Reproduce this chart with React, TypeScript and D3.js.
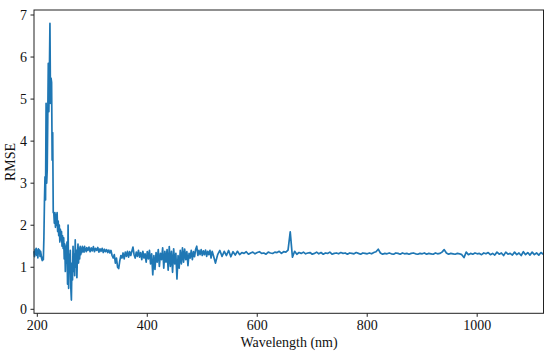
import React from "react";
import * as d3 from "d3";

// Segment A: 194–290 nm, 1 nm step
const segAStart = 194;
const segAStep = 1;
const segAValues = [
  1.38, 1.25, 1.42, 1.30, 1.45, 1.28, 1.40, 1.22, 1.44, 1.33,
  1.41, 1.26, 1.38, 1.30, 1.20, 1.16, 1.24, 1.18,
  1.70, 2.55, 3.15, 2.60, 4.90, 3.00, 3.30, 4.50, 5.85, 4.70,
  5.60, 6.80, 4.90, 5.50, 5.40, 3.55, 4.20, 2.30,
  2.30, 2.05, 2.30, 1.95, 2.25, 2.00, 2.30, 1.85, 2.10, 1.75, 2.00,
  1.60, 1.90, 1.65, 1.85, 1.50, 1.75, 1.45, 1.70, 1.20, 1.55,
  0.90, 1.50, 1.10, 1.60, 0.60, 2.00, 0.50, 1.30, 0.90, 1.40,
  0.50, 0.22, 1.10, 0.70, 1.50, 0.90, 1.30, 0.80, 1.65, 1.00,
  1.40, 0.75, 1.30, 1.55, 1.10, 1.45, 1.20, 1.50, 1.30, 1.45,
  1.35, 1.50, 1.38, 1.46, 1.36, 1.50, 1.40, 1.44, 1.37, 1.47,
];

// Segment B: 292–520 nm, 2 nm step
const segBStart = 292;
const segBStep = 2;
const segBValues = [
  1.40, 1.48, 1.37, 1.46, 1.39, 1.49, 1.37, 1.45, 1.40, 1.47,
  1.36, 1.44, 1.38, 1.45, 1.35, 1.43, 1.37, 1.42, 1.35, 1.41,
  1.34, 1.40, 1.28, 1.22, 1.30, 1.10, 1.22, 1.00, 0.97, 1.15,
  1.28, 1.22, 1.34, 1.20, 1.36, 1.26, 1.38, 1.24, 1.37, 1.28,
  1.38, 1.48, 1.30, 1.22, 1.36, 1.26, 1.40, 1.24, 1.35, 1.18,
  1.38, 1.22, 1.32, 1.12, 1.37, 1.20, 1.40, 1.08, 1.32, 0.82,
  1.28, 0.95, 1.35, 1.12, 1.42, 1.02, 1.33, 1.18, 1.46, 0.98,
  1.38, 1.12, 1.42, 0.93, 1.49, 1.02, 1.38, 0.88, 1.44, 1.08,
  1.33, 0.72, 1.28, 0.98, 1.40, 1.08, 1.46, 1.12, 1.43, 1.18,
  1.37, 1.04, 1.33, 1.22, 1.40, 1.18, 1.37, 1.25, 1.43, 1.50,
  1.28, 1.40, 1.30, 1.42, 1.28, 1.39, 1.30, 1.41, 1.26, 1.38,
  1.30, 1.40, 1.22, 1.38, 1.29,
];

// Segment C: 524–1120 nm, 4 nm step
const segCStart = 524;
const segCStep = 4;
const segCValues = [
  1.10, 1.30, 1.40, 1.26, 1.38, 1.28, 1.40, 1.25, 1.37, 1.29,
  1.38, 1.30, 1.35, 1.33, 1.37, 1.31, 1.34, 1.36, 1.32, 1.35,
  1.37, 1.33, 1.34, 1.31, 1.36, 1.34, 1.33, 1.36, 1.35, 1.38,
  1.33, 1.37, 1.36, 1.41, 1.84, 1.24, 1.38, 1.31, 1.35, 1.33,
  1.36, 1.32, 1.34, 1.35, 1.31, 1.33, 1.36, 1.32, 1.35, 1.31,
  1.34, 1.33, 1.36, 1.31, 1.33, 1.34, 1.32, 1.35, 1.33, 1.34,
  1.31, 1.34, 1.33, 1.32, 1.35, 1.33, 1.31, 1.34, 1.33, 1.32,
  1.34, 1.32, 1.35, 1.37, 1.43, 1.34, 1.31, 1.33, 1.32, 1.34,
  1.32, 1.31, 1.34, 1.33, 1.31, 1.34, 1.32, 1.33, 1.31, 1.33,
  1.34, 1.32, 1.31, 1.33, 1.32, 1.34, 1.31, 1.33, 1.32, 1.31,
  1.34, 1.32, 1.33, 1.36, 1.42, 1.34, 1.31, 1.33, 1.32, 1.31,
  1.33, 1.32, 1.30, 1.23, 1.36, 1.30, 1.33, 1.31, 1.34, 1.32,
  1.33, 1.30, 1.34, 1.32, 1.35, 1.30, 1.33, 1.29, 1.36, 1.31,
  1.34, 1.28, 1.36, 1.31, 1.33, 1.29, 1.36, 1.30, 1.34, 1.28,
  1.37, 1.30, 1.35, 1.29, 1.36, 1.30, 1.34, 1.29, 1.35, 1.31,
];

const xTicks = [200, 400, 600, 800, 1000];
const yTicks = [0, 1, 2, 3, 4, 5, 6, 7];
const xLabel = "Wavelength (nm)";
const yLabel = "RMSE";

type Pt = { x: number; y: number };
const seg = (start: number, step: number, vals: number[]): Pt[] =>
  vals.map((v, i) => ({ x: start + i * step, y: v }));

const data: Pt[] = [
  ...seg(segAStart, segAStep, segAValues),
  ...seg(segBStart, segBStep, segBValues),
  ...seg(segCStart, segCStep, segCValues),
];

const W = 550;
const H = 356;
const left = 34;
const right = 543.5;
const top = 10;
const bottom = 313.3;
const font = "Liberation Serif, Times New Roman, serif";
const txt = { fontFamily: font };

export default function App() {
  const x = d3.scaleLinear().domain([194, 1120.6]).range([left, right]);
  const y = d3.scaleLinear().domain([-0.095, 7.119]).range([bottom, top]);
  const line = d3
    .line<Pt>()
    .x((d) => x(d.x))
    .y((d) => y(d.y));

  return (
    <svg
      width={W}
      height={H}
      style={{ position: "absolute", left: 0, top: 0, background: "#fff" }}
    >
      <rect x={0} y={0} width={W} height={H} fill="#fff" />
      <path
        d={line(data) || ""}
        fill="none"
        stroke="#1f77b4"
        strokeWidth={1.7}
        strokeLinejoin="round"
      />
      <rect
        x={left}
        y={top}
        width={right - left}
        height={bottom - top}
        fill="none"
        stroke="#222"
        strokeWidth={1}
      />
      {xTicks.map((t) => (
        <g key={"x" + t}>
          <line x1={x(t)} x2={x(t)} y1={bottom} y2={bottom + 3.5} stroke="#222" strokeWidth={1} />
          <text x={x(t)} y={330} textAnchor="middle" fontSize={14} fill="#111" style={txt}>
            {t}
          </text>
        </g>
      ))}
      {yTicks.map((t) => (
        <g key={"y" + t}>
          <line x1={left - 3.5} x2={left} y1={y(t)} y2={y(t)} stroke="#222" strokeWidth={1} />
          <text
            x={left - 7}
            y={y(t)}
            textAnchor="end"
            dominantBaseline="central"
            fontSize={14}
            fill="#111"
            style={txt}
          >
            {t}
          </text>
        </g>
      ))}
      <text x={289} y={347} textAnchor="middle" fontSize={14} fill="#111" style={txt}>
        {xLabel}
      </text>
      <text
        transform={`translate(15,162) rotate(-90)`}
        textAnchor="middle"
        fontSize={14}
        fill="#111"
        style={txt}
      >
        {yLabel}
      </text>
    </svg>
  );
}
